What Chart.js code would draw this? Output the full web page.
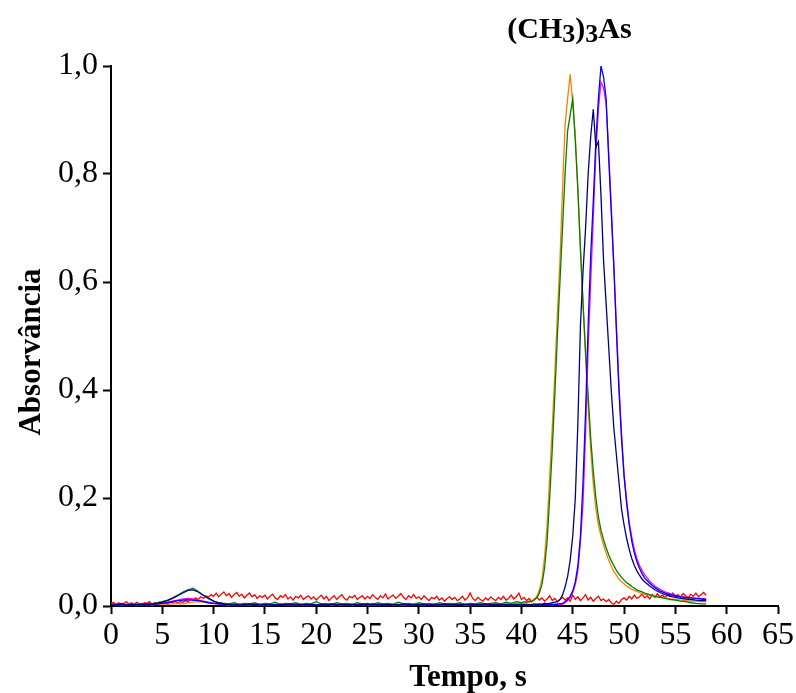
<!DOCTYPE html>
<html><head><meta charset="utf-8">
<script src="https://cdn.jsdelivr.net/npm/chart.js@4/dist/chart.umd.min.js"></script>
<style>html,body{margin:0;padding:0;background:#fff}</style>
</head><body>
<canvas id="c" width="796" height="693"></canvas>
<script>
// time axis (s) shared by the five peak series
const time = [
0,0.5,1,1.5,2,2.5,3,3.5,4,4.5,
5,5.5,6,6.5,7,7.5,8,8.5,9,9.5,
10,10.5,11,11.5,12,12.5,13,13.5,14,14.5,
15,15.5,16,16.5,17,17.5,18,18.5,19,19.5,
20,20.5,21,21.5,22,22.5,23,23.5,24,24.5,
25,25.5,26,26.5,27,27.5,28,28.5,29,29.5,
30,30.5,31,31.5,32,32.5,33,33.5,34,34.5,
35,35.5,36,36.5,37,37.5,38,38.5,39,39.5,
40,
40.25,40.5,40.75,41,41.25,41.5,41.75,42,42.25,42.5,
42.75,43,43.25,43.5,43.75,44,44.25,44.5,44.75,45,
45.25,45.5,45.75,46,46.25,46.5,46.75,47,47.25,47.5,
47.75,48,48.25,48.5,48.75,49,49.25,49.5,49.75,50,
50.25,50.5,50.75,51,51.25,51.5,51.75,52,
52.5,53,53.5,54,54.5,55,55.5,56,56.5,57,
57.5,58];

// time axis (s) of the red blank trace
const redTime = [
0,0.25,0.5,0.75,1,1.25,1.5,1.75,2,2.25,2.5,2.75,3,3.25,3.5,3.75,4,4.25,4.5,4.75,
5,5.25,5.5,5.75,6,6.25,6.5,6.75,7,7.25,7.5,7.75,8,8.25,8.5,8.75,9,9.25,9.5,9.75,
10,10.25,10.5,10.75,11,11.25,11.5,11.75,12,12.25,12.5,12.75,13,13.25,13.5,13.75,14,14.25,14.5,14.75,
15,15.25,15.5,15.75,16,16.25,16.5,16.75,17,17.25,17.5,17.75,18,18.25,18.5,18.75,19,19.25,19.5,19.75,
20,20.25,20.5,20.75,21,21.25,21.5,21.75,22,22.25,22.5,22.75,23,23.25,23.5,23.75,24,24.25,24.5,24.75,
25,25.25,25.5,25.75,26,26.25,26.5,26.75,27,27.25,27.5,27.75,28,28.25,28.5,28.75,29,29.25,29.5,29.75,
30,30.25,30.5,30.75,31,31.25,31.5,31.75,32,32.25,32.5,32.75,33,33.25,33.5,33.75,34,34.25,34.5,34.75,
35,35.25,35.5,35.75,36,36.25,36.5,36.75,37,37.25,37.5,37.75,38,38.25,38.5,38.75,39,39.25,39.5,39.75,
40,40.25,40.5,40.75,41,41.25,41.5,41.75,42,42.25,42.5,42.75,43,43.25,43.5,43.75,44,44.25,44.5,44.75,
45,45.25,45.5,45.75,46,46.25,46.5,46.75,47,47.25,47.5,47.75,48,48.25,48.5,48.75,49,49.25,49.5,49.75,
50,50.25,50.5,50.75,51,51.25,51.5,51.75,52,52.25,52.5,52.75,53,53.25,53.5,53.75,54,54.25,54.5,54.75,
55,55.25,55.5,55.75,56,56.25,56.5,56.75,57,57.25,57.5,57.75,
58];

const red = [
0.004,0.007,0.003,0.006,0.002,0.005,0.008,0.004,0.006,0.003,0.007,0.004,0.002,0.006,0.005,0.008,0.003,0.006,0.004,0.007,
0.005,0.008,0.004,0.007,0.006,0.009,0.005,0.008,0.007,0.010,0.008,0.012,0.010,0.015,0.012,0.017,0.014,0.019,0.016,0.021,
0.018,0.024,0.017,0.022,0.026,0.019,0.023,0.016,0.021,0.025,0.018,0.022,0.015,0.020,0.024,0.017,0.021,0.014,0.019,0.016,
0.020,0.013,0.018,0.022,0.015,0.012,0.019,0.016,0.021,0.013,0.017,0.011,0.018,0.015,0.020,0.012,0.016,0.019,0.013,0.017,
0.011,0.016,0.020,0.013,0.018,0.010,0.015,0.019,0.012,0.017,0.021,0.014,0.011,0.018,0.015,0.020,0.012,0.016,0.019,0.013,
0.018,0.014,0.021,0.016,0.012,0.019,0.015,0.022,0.013,0.017,0.020,0.014,0.018,0.023,0.016,0.012,0.019,0.015,0.021,0.014,
0.017,0.012,0.019,0.014,0.010,0.016,0.013,0.018,0.011,0.015,0.009,0.014,0.017,0.012,0.016,0.010,0.013,0.018,0.011,0.015,
0.024,0.014,0.010,0.016,0.012,0.009,0.015,0.011,0.017,0.013,0.010,0.016,0.012,0.018,0.011,0.014,0.020,0.013,0.017,0.024,
0.012,0.016,0.010,0.014,0.008,0.013,0.017,0.011,0.015,0.009,0.013,0.019,0.010,0.014,0.008,0.012,0.016,0.011,0.015,0.009,
0.020,0.012,0.017,0.010,0.015,0.021,0.011,0.016,0.009,0.014,0.018,0.010,0.013,0.008,0.012,0.006,0.003,0.009,0.005,0.012,
0.015,0.011,0.018,0.013,0.020,0.014,0.017,0.022,0.015,0.019,0.013,0.021,0.016,0.023,0.017,0.020,0.015,0.022,0.018,0.024,
0.017,0.021,0.016,0.023,0.019,0.015,0.022,0.018,0.024,0.017,0.021,0.025,
0.020];

const orange = [
0.003,0.004,0.002,0.003,0.004,0.002,0.003,0.004,0.002,0.003,
0.004,0.003,0.004,0.005,0.004,0.006,0.007,0.008,0.007,0.006,
0.005,0.004,0.003,0.002,0.003,0.002,0.003,0.002,0.004,0.002,
0.003,0.002,0.003,0.004,0.002,0.003,0.002,0.003,0.002,0.003,
0.002,0.003,0.004,0.002,0.003,0.002,0.003,0.002,0.003,0.004,
0.002,0.003,0.002,0.003,0.004,0.002,0.003,0.002,0.003,0.002,
0.003,0.002,0.004,0.003,0.002,0.003,0.002,0.003,0.004,0.002,
0.003,0.002,0.003,0.002,0.004,0.003,0.003,0.004,0.004,0.005,
0.005,
0.005,0.006,0.007,0.009,0.012,0.018,0.030,0.050,0.090,0.150,
0.240,0.330,0.430,0.540,0.640,0.770,0.890,0.940,0.985,0.930,
0.870,0.770,0.660,0.560,0.460,0.370,0.290,0.225,0.180,0.150,
0.130,0.113,0.098,0.085,0.074,0.064,0.057,0.050,0.045,0.041,
0.037,0.034,0.031,0.029,0.027,0.025,0.023,0.022,
0.020,0.018,0.016,0.015,0.013,0.012,0.011,0.010,0.009,0.009,
0.008,0.008];

const green = [
0.004,0.003,0.005,0.002,0.004,0.003,0.005,0.003,0.004,0.006,
0.008,0.011,0.015,0.020,0.026,0.030,0.033,0.027,0.020,0.014,
0.009,0.006,0.005,0.004,0.006,0.003,0.005,0.004,0.006,0.003,
0.005,0.004,0.007,0.003,0.005,0.004,0.006,0.003,0.005,0.004,
0.008,0.004,0.005,0.003,0.006,0.004,0.005,0.003,0.006,0.004,
0.005,0.003,0.006,0.004,0.005,0.003,0.007,0.004,0.005,0.003,
0.006,0.004,0.005,0.003,0.006,0.004,0.005,0.004,0.006,0.003,
0.005,0.004,0.006,0.004,0.005,0.006,0.004,0.007,0.005,0.008,
0.006,
0.008,0.007,0.009,0.008,0.011,0.015,0.024,0.040,0.070,0.120,
0.200,0.290,0.390,0.500,0.600,0.700,0.800,0.880,0.910,0.940,
0.860,0.770,0.660,0.560,0.470,0.390,0.310,0.250,0.200,0.165,
0.140,0.123,0.108,0.095,0.084,0.075,0.066,0.059,0.053,0.048,
0.043,0.040,0.036,0.033,0.030,0.028,0.026,0.024,
0.021,0.018,0.016,0.014,0.012,0.011,0.009,0.008,0.006,0.005,
0.004,0.004];

const navy = [
0.003,0.002,0.004,0.002,0.003,0.002,0.003,0.004,0.003,0.005,
0.007,0.010,0.014,0.019,0.024,0.029,0.030,0.026,0.020,0.014,
0.009,0.006,0.004,0.003,0.002,0.003,0.002,0.004,0.002,0.003,
0.002,0.003,0.001,0.003,0.002,0.004,0.002,0.003,0.002,0.003,
0.001,0.003,0.002,0.004,0.002,0.003,0.002,0.003,0.001,0.003,
0.002,0.004,0.002,0.003,0.002,0.003,0.002,0.004,0.002,0.003,
0.002,0.003,0.001,0.003,0.002,0.004,0.002,0.003,0.002,0.003,
0.002,0.003,0.002,0.004,0.002,0.003,0.002,0.003,0.002,0.003,
0.002,
0.003,0.002,0.003,0.002,0.004,0.003,0.004,0.003,0.005,0.004,
0.005,0.006,0.007,0.008,0.012,0.020,0.035,0.055,0.085,0.130,
0.200,0.340,0.520,0.620,0.700,0.800,0.870,0.920,0.850,0.860,
0.760,0.640,0.560,0.480,0.400,0.330,0.280,0.230,0.180,0.150,
0.125,0.105,0.088,0.075,0.065,0.057,0.050,0.045,
0.037,0.030,0.025,0.021,0.018,0.016,0.014,0.013,0.012,0.011,
0.010,0.010];

const blue = [
0.002,0.003,0.002,0.003,0.002,0.003,0.002,0.003,0.003,0.004,
0.005,0.006,0.008,0.010,0.011,0.012,0.011,0.010,0.008,0.006,
0.005,0.004,0.003,0.002,0.003,0.002,0.003,0.002,0.003,0.002,
0.003,0.002,0.003,0.002,0.003,0.002,0.003,0.002,0.003,0.002,
0.002,0.003,0.002,0.003,0.002,0.003,0.002,0.003,0.002,0.003,
0.003,0.002,0.003,0.002,0.003,0.002,0.003,0.002,0.003,0.002,
0.002,0.003,0.002,0.003,0.002,0.003,0.002,0.003,0.002,0.003,
0.003,0.002,0.003,0.002,0.003,0.002,0.003,0.002,0.003,0.002,
0.003,
0.002,0.003,0.002,0.003,0.002,0.003,0.002,0.003,0.002,0.003,
0.002,0.003,0.003,0.004,0.004,0.005,0.008,0.012,0.018,0.028,
0.045,0.075,0.130,0.230,0.360,0.520,0.650,0.750,0.860,0.940,
1.000,0.980,0.940,0.830,0.730,0.630,0.510,0.400,0.310,0.240,
0.190,0.150,0.120,0.098,0.082,0.070,0.060,0.052,
0.042,0.034,0.028,0.024,0.021,0.019,0.017,0.016,0.015,0.014,
0.013,0.012];

const magenta = [
0.003,0.002,0.003,0.002,0.003,0.002,0.003,0.002,0.003,0.004,
0.005,0.007,0.009,0.011,0.013,0.014,0.013,0.011,0.009,0.007,
0.005,0.004,0.003,0.002,0.003,0.002,0.003,0.002,0.003,0.002,
0.002,0.003,0.002,0.003,0.002,0.003,0.002,0.003,0.002,0.003,
0.003,0.002,0.003,0.002,0.003,0.002,0.003,0.002,0.003,0.002,
0.002,0.003,0.002,0.003,0.002,0.003,0.002,0.003,0.002,0.003,
0.003,0.002,0.003,0.002,0.003,0.002,0.003,0.002,0.003,0.002,
0.002,0.003,0.002,0.003,0.002,0.003,0.002,0.003,0.002,0.003,
0.002,
0.002,0.003,0.002,0.003,0.002,0.003,0.002,0.003,0.002,0.003,
0.002,0.002,0.003,0.003,0.003,0.003,0.006,0.010,0.016,0.025,
0.040,0.065,0.120,0.190,0.320,0.480,0.600,0.720,0.840,0.920,
0.970,0.960,0.930,0.840,0.740,0.630,0.520,0.410,0.320,0.245,
0.195,0.155,0.128,0.105,0.088,0.075,0.066,0.058,
0.046,0.037,0.031,0.026,0.023,0.020,0.018,0.016,0.015,0.014,
0.014,0.013];

const xTicks = [0,5,10,15,20,25,30,35,40,45,50,55,60,65];
const yTicks = [0,0.2,0.4,0.6,0.8,1.0];

const titleText = ["(CH", "3", ")", "3", "As"];
const xTitle = "Tempo, s";
const yTitle = "Absorvância";

const FONT = "'Liberation Serif', 'Times New Roman', serif";

const seriesList = [
  {t: time, data: navy, color: '#000080'},
  {t: time, data: blue, color: '#0000FF'},
  {t: time, data: magenta, color: '#FF00FF'},
  {t: time, data: green, color: '#008000'},
  {t: time, data: orange, color: '#FF8000'},
  {t: redTime, data: red, color: '#FF0000'}
];

const textPlugin = {
  id: 'textPlugin',
  afterDraw(chart) {
    const ctx = chart.ctx;
    ctx.save();
    ctx.fillStyle = '#000';
    ctx.textBaseline = 'alphabetic';
    ctx.textAlign = 'left';
    const big = 'bold 30px ' + FONT, small = 'bold 26px ' + FONT;
    const parts = titleText.map((t, i) => ({t, sub: i === 1 || i === 3}));
    let total = 0;
    parts.forEach(p => { ctx.font = p.sub ? small : big; p.w = ctx.measureText(p.t).width; total += p.w; });
    let x = 569.5 - total / 2;
    const base = 38;
    parts.forEach(p => { ctx.font = p.sub ? small : big; ctx.fillText(p.t, x, base + (p.sub ? 4 : 0)); x += p.w; });
    const axisFont = 'bold 31px ' + FONT;
    ctx.font = axisFont;
    ctx.textAlign = 'center';
    ctx.fillText(xTitle, 468, 686);
    ctx.translate(40, 352);
    ctx.rotate(-Math.PI / 2);
    ctx.fillText(yTitle, 0, 0);
    ctx.restore();
  }
};

new Chart(document.getElementById('c'), {
  type: 'line',
  data: {
    datasets: seriesList.map(s => ({
      data: s.t.map((t, i) => ({x: t, y: s.data[i]})),
      borderColor: s.color,
      backgroundColor: s.color,
      borderWidth: 1.3,
      pointRadius: 0,
      tension: 0,
      fill: false
    }))
  },
  options: {
    responsive: false,
    animation: false,
    layout: {padding: {top: 66, right: 16, left: 0, bottom: 0}},
    plugins: {legend: {display: false}, tooltip: {enabled: false}, title: {display: false}},
    scales: {
      x: {
        type: 'linear', min: 0, max: 65,
        afterFit(s) { s.height = 87; },
        afterBuildTicks(s) { s.ticks = xTicks.map(v => ({value: v})); },
        border: {display: true, color: '#000', width: 2},
        grid: {display: true, drawOnChartArea: false, drawTicks: true, tickLength: 8, tickWidth: 2, tickColor: '#000'},
        ticks: {autoSkip: false, maxRotation: 0, color: '#000', padding: 2, font: {family: FONT, size: 32}}
      },
      y: {
        type: 'linear', min: 0, max: 1,
        afterFit(s) { s.width = 111; },
        afterBuildTicks(s) { s.ticks = yTicks.map(v => ({value: v})); },
        border: {display: true, color: '#000', width: 2},
        grid: {display: true, drawOnChartArea: false, drawTicks: true, tickLength: 8, tickWidth: 2, tickColor: '#000'},
        ticks: {color: '#000', padding: 5, font: {family: FONT, size: 32},
          callback: v => v.toFixed(1).replace('.', ',')}
      }
    }
  },
  plugins: [textPlugin]
});
</script>
</body></html>
